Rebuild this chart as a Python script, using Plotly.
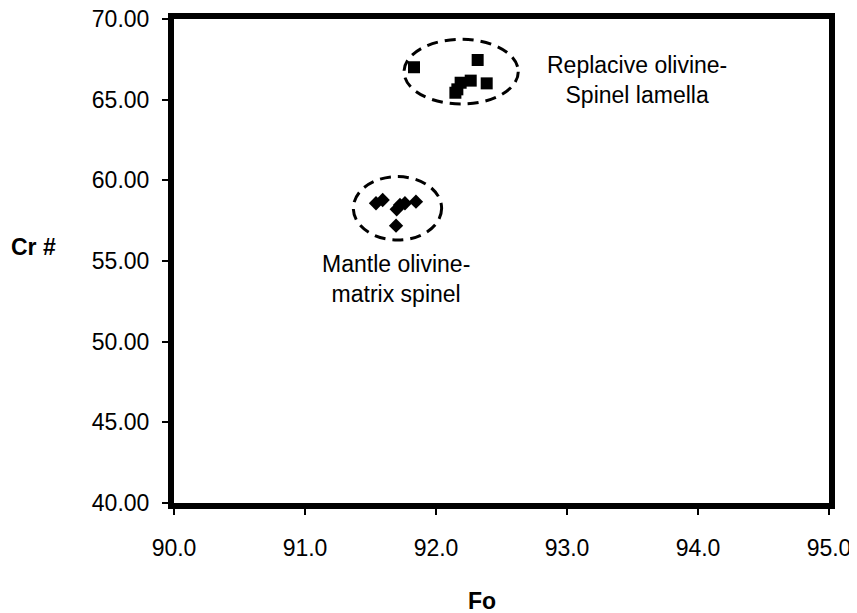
import plotly.graph_objects as go

# Replacive olivine - spinel lamella (squares)
rep_fo = [91.832, 92.318, 92.387, 92.265, 92.188, 92.163, 92.148]
rep_cr = [67.01, 67.46, 66.01, 66.18, 66.05, 65.64, 65.43]

# Mantle olivine - matrix spinel (diamonds)
man_fo = [91.542, 91.593, 91.700, 91.725, 91.763, 91.847, 91.695]
man_cr = [58.58, 58.78, 58.20, 58.47, 58.58, 58.68, 57.19]

x_ticks = [90, 91, 92, 93, 94, 95]
y_ticks = [40, 45, 50, 55, 60, 65, 70]

FONT = "Liberation Sans, Arial, sans-serif"
FS = 23

fig = go.Figure()
fig.add_trace(go.Scatter(x=rep_fo, y=rep_cr, mode="markers",
                         marker=dict(symbol="square", size=12, color="black"),
                         showlegend=False))
fig.add_trace(go.Scatter(x=man_fo, y=man_cr, mode="markers",
                         marker=dict(symbol="diamond", size=11, color="black"),
                         showlegend=False))

# dashed ellipses around clusters
fig.add_shape(type="circle", xref="x", yref="y",
              x0=91.756, x1=92.628, y0=64.73, y1=68.74,
              line=dict(color="black", width=3, dash="11px,7px"))
fig.add_shape(type="circle", xref="x", yref="y",
              x0=91.369, x1=92.043, y0=56.30, y1=60.23,
              line=dict(color="black", width=3, dash="11px,7px"))

fig.add_annotation(x=93.534, y=66.22, xref="x", yref="y",
                   text="Replacive olivine-<br>Spinel lamella", showarrow=False,
                   xanchor="center", yanchor="middle",
                   font=dict(family=FONT, size=FS, color="black"), align="center")
fig.add_annotation(x=91.691, y=53.88, xref="x", yref="y",
                   text="Mantle olivine-<br>matrix spinel", showarrow=False,
                   xanchor="center", yanchor="middle",
                   font=dict(family=FONT, size=FS, color="black"), align="center")

# axis titles
fig.add_annotation(x=-0.215, y=55.87, xref="paper", yref="y",
                   text="<b>Cr #</b>", showarrow=False,
                   xanchor="center", yanchor="middle",
                   font=dict(family=FONT, size=FS, color="black"))
fig.add_annotation(x=92.35, y=-0.2025, xref="x", yref="paper",
                   text="<b>Fo</b>", showarrow=False,
                   xanchor="center", yanchor="middle",
                   font=dict(family=FONT, size=FS, color="black"))

axis_common = dict(showline=True, linewidth=6, linecolor="black", mirror=True,
                   showgrid=False, zeroline=False, ticks="outside", ticklen=6,
                   tickwidth=1.5, tickcolor="black", automargin=False,
                   ticklabeloverflow="allow",
                   tickfont=dict(family=FONT, size=FS, color="black"))

fig.update_xaxes(range=[90, 95], tickvals=x_ticks,
                 ticktext=[f"{v:.1f}" for v in x_ticks], ticklabelstandoff=13,
                 **axis_common)
fig.update_yaxes(range=[40, 70], tickvals=y_ticks,
                 ticktext=[f"{v:.2f}" for v in y_ticks], ticklabelstandoff=8,
                 **axis_common)

fig.update_layout(width=849, height=605,
                  margin=dict(l=166, r=28, t=11, b=110),
                  plot_bgcolor="white", paper_bgcolor="white",
                  font=dict(family=FONT, size=FS, color="black"))

fig.write_html("out.html")
